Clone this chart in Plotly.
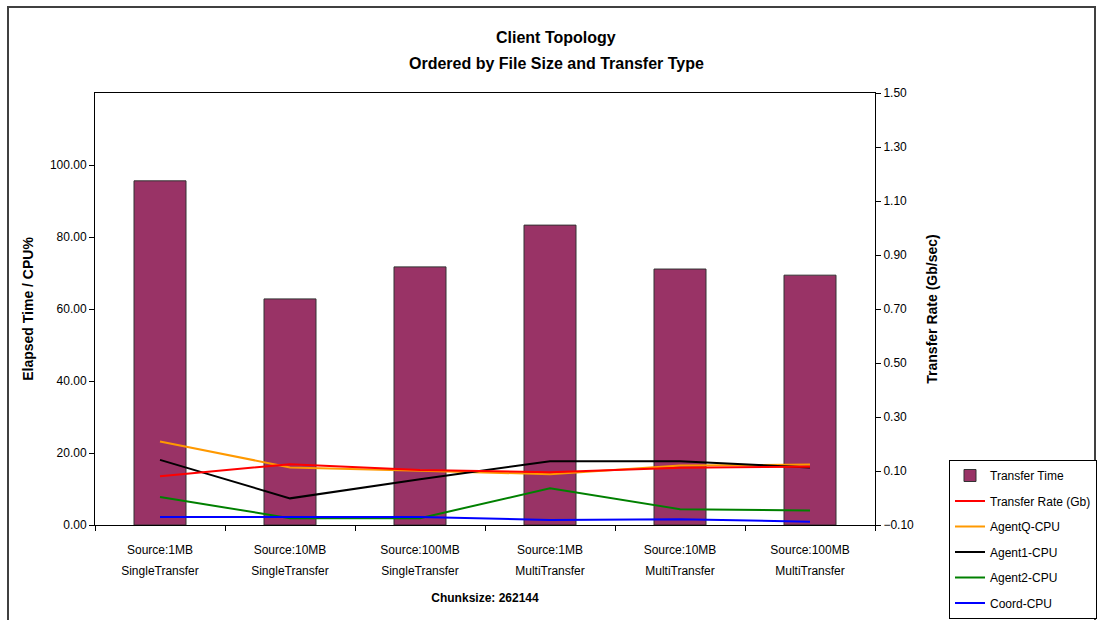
import plotly.graph_objects as go

categories = ["Source:1MB SingleTransfer", "Source:10MB SingleTransfer", "Source:100MB SingleTransfer",
              "Source:1MB MultiTransfer", "Source:10MB MultiTransfer", "Source:100MB MultiTransfer"]
label_line1 = ["Source:1MB", "Source:10MB", "Source:100MB", "Source:1MB", "Source:10MB", "Source:100MB"]
label_line2 = ["SingleTransfer", "SingleTransfer", "SingleTransfer", "MultiTransfer", "MultiTransfer", "MultiTransfer"]
transfer_time = [95.6, 62.8, 71.7, 83.3, 71.1, 69.4]
transfer_rate = [0.081, 0.125, 0.104, 0.095, 0.112, 0.116]
agentq_cpu = [23.2, 16.0, 15.1, 14.1, 16.5, 16.8]
agent1_cpu = [18.1, 7.4, 12.7, 17.7, 17.7, 16.0]
agent2_cpu = [7.8, 1.9, 1.9, 10.2, 4.4, 4.0]
coord_cpu = [2.2, 2.2, 2.2, 1.4, 1.6, 0.9]

left_ticks = [0, 20, 40, 60, 80, 100]
right_ticks = [-0.1, 0.1, 0.3, 0.5, 0.7, 0.9, 1.1, 1.3, 1.5]

FONT = "Liberation Sans, Arial, sans-serif"
W, H = 1098, 620
L, R, T, B = 95, 875, 93, 525

def px(x):
    return (x - L) / (R - L)

def py(y):
    return (B - y) / (B - T)

fig = go.Figure()
fig.add_trace(go.Bar(x=categories, y=transfer_time, name="Transfer Time",
                     marker=dict(color="#993366", line=dict(color="#333333", width=1)),
                     width=0.4, legendgroup="a", yaxis="y"))
fig.add_trace(go.Scatter(x=categories, y=transfer_rate, name="Transfer Rate (Gb)", mode="lines",
                         line=dict(color="#FF0000", width=2), legendgroup="b", yaxis="y2"))
fig.add_trace(go.Scatter(x=categories, y=agentq_cpu, name="AgentQ-CPU", mode="lines",
                         line=dict(color="#FF9900", width=2), legendgroup="c", yaxis="y"))
fig.add_trace(go.Scatter(x=categories, y=agent1_cpu, name="Agent1-CPU", mode="lines",
                         line=dict(color="#000000", width=2), legendgroup="d", yaxis="y"))
fig.add_trace(go.Scatter(x=categories, y=agent2_cpu, name="Agent2-CPU", mode="lines",
                         line=dict(color="#008000", width=2), legendgroup="e", yaxis="y"))
fig.add_trace(go.Scatter(x=categories, y=coord_cpu, name="Coord-CPU", mode="lines",
                         line=dict(color="#0000FF", width=2), legendgroup="f", yaxis="y"))
# invisible helper trace so the second-line label axis is rendered
fig.add_trace(go.Scatter(x=categories, y=[None] * len(categories), xaxis="x2", yaxis="y",
                         showlegend=False, hoverinfo="skip", mode="lines"))

fig.update_layout(
    width=W, height=H,
    margin=dict(l=L, r=W - R, t=T, b=H - B, autoexpand=False),
    paper_bgcolor="white", plot_bgcolor="white",
    font=dict(family=FONT, size=12, color="black"),
    showlegend=True,
    legend=dict(x=px(949), y=py(460), xanchor="left", yanchor="top",
                bordercolor="black", borderwidth=1, bgcolor="white",
                font=dict(family=FONT, size=12, color="black"),
                traceorder="grouped", tracegroupgap=6.5, itemwidth=30),
    xaxis=dict(type="category", showline=True, linecolor="black", linewidth=1, mirror=True,
               ticks="outside", tickson="boundaries", ticklen=5, tickcolor="black",
               tickvals=categories, ticktext=label_line1, ticklabelstandoff=14,
               showgrid=False, tickfont=dict(family=FONT, size=12), automargin=False),
    xaxis2=dict(type="category", overlaying="x", matches="x", anchor="y", side="bottom",
                showline=False, ticks="", showgrid=False, zeroline=False,
                tickvals=categories, ticktext=label_line2, ticklabelstandoff=37,
                tickfont=dict(family=FONT, size=12), automargin=False,
                title=dict(text="<b>Chunksize: 262144</b>", font=dict(family=FONT, size=12), standoff=16)),
    yaxis=dict(range=[0, 120], tickvals=left_ticks, tickformat=".2f", showline=True,
               linecolor="black", linewidth=1, ticks="outside", ticklen=5, tickcolor="black",
               showgrid=False, zeroline=False, tickfont=dict(family=FONT, size=12), automargin=False,
               title=dict(text="<b>Elapsed Time / CPU%</b>", font=dict(family=FONT, size=14), standoff=12)),
    yaxis2=dict(range=[-0.1, 1.5], tickvals=right_ticks, tickformat=".2f", overlaying="y", side="right",
                showline=True, linecolor="black", linewidth=1, ticks="outside", ticklen=5, tickcolor="black",
                showgrid=False, zeroline=False, tickfont=dict(family=FONT, size=12), automargin=False,
                title=dict(text="<b>Transfer Rate (Gb/sec)</b>", font=dict(family=FONT, size=14), standoff=14)),
    annotations=[
        dict(text="<b>Client Topology</b>", xref="paper", yref="paper", x=px(556), y=py(38),
             xanchor="center", yanchor="middle", showarrow=False, font=dict(family=FONT, size=16)),
        dict(text="<b>Ordered by File Size and Transfer Type</b>", xref="paper", yref="paper",
             x=px(556), y=py(63), xanchor="center", yanchor="middle", showarrow=False,
             font=dict(family=FONT, size=16)),
    ],
    shapes=[
        dict(type="rect", xref="paper", yref="paper", x0=px(8), x1=px(1095), y0=py(640), y1=py(7),
             line=dict(color="#404040", width=2), fillcolor="rgba(0,0,0,0)", layer="below"),
    ],
)

fig.write_html("out.html")
